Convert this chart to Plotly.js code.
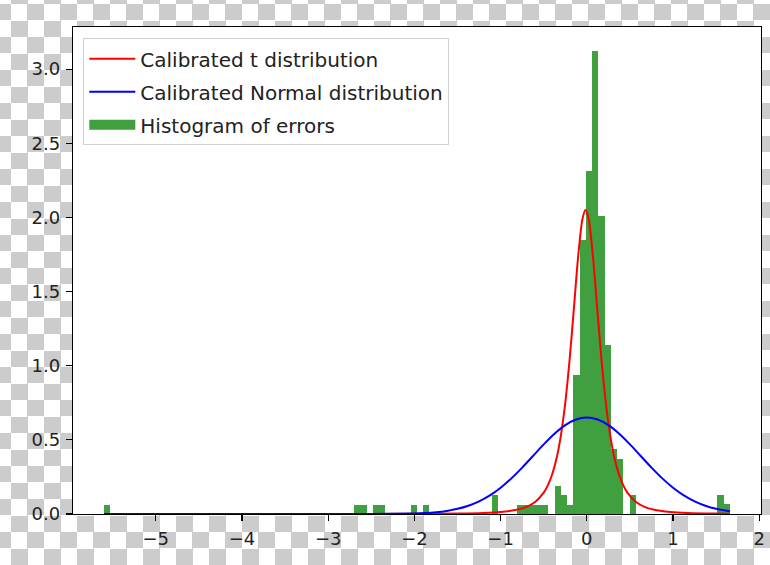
<!DOCTYPE html>
<html>
<head>
<meta charset="utf-8">
<script src="https://cdn.plot.ly/plotly-3.0.1.min.js"></script>
<style>
  html, body { margin: 0; padding: 0; }
  body {
    width: 770px; height: 565px; overflow: hidden;
    background-color: #ffffff;
    background-image: repeating-conic-gradient(#cccccc 0 25%, #ffffff 0 50%);
    background-size: 33px 33px;
    background-position: 11px 4px;
  }
  #chart { width: 770px; height: 565px; }
</style>
</head>
<body>
<div id="chart"></div>
<script>
// Histogram of errors (density), bin centres and heights
const binWidth = 0.07265;
const histX = [-5.5687, -2.6627, -2.5900, -2.4447, -2.3721, -2.0088, -1.8635, -1.0644,
               -0.7738, -0.7011, -0.6285, -0.5558, -0.4832, -0.3379, -0.2652, -0.1926,
               -0.1199, -0.0473, 0.0254, 0.0980, 0.1707, 0.2433, 0.3160, 0.3886,
               0.5339, 1.5510, 1.6237];
const histY = [0.063, 0.063, 0.063, 0.063, 0.063, 0.063, 0.063, 0.125,
               0.063, 0.063, 0.063, 0.063, 0.063, 0.19, 0.125, 0.063,
               0.94, 1.85, 2.31, 3.12, 2.01, 1.14, 0.44, 0.37,
               0.125, 0.125, 0.07];

// Calibrated t distribution curve
const tX = [-5.6, -4, -3, -2, -1.5, -1.2, -1.0, -0.8, -0.7, -0.6, -0.5, -0.45, -0.4, -0.35,
            -0.3, -0.25, -0.2, -0.15, -0.1, -0.05, -0.015, 0.02, 0.07, 0.12, 0.17, 0.22,
            0.27, 0.32, 0.37, 0.42, 0.47, 0.57, 0.67, 0.77, 0.97, 1.17, 1.47, 1.66];
const tY = [0.0000, 0.0001, 0.0002, 0.0009, 0.0028, 0.0066, 0.0132, 0.0299, 0.0479, 0.0807,
            0.1437, 0.196, 0.271, 0.379, 0.534, 0.751, 1.040, 1.388, 1.740, 1.992, 2.05,
            1.992, 1.740, 1.388, 1.040, 0.751, 0.534, 0.379, 0.271, 0.196, 0.1437, 0.0807,
            0.0479, 0.0299, 0.0132, 0.0066, 0.0028, 0.0018];

// Calibrated Normal distribution curve
const nX = [-5.6, -4, -3, -2.5, -2, -1.875, -1.75, -1.625, -1.5, -1.375, -1.25, -1.125, -1.0,
            -0.875, -0.75, -0.625, -0.5, -0.375, -0.25, -0.125, 0, 0.125, 0.25, 0.375, 0.5,
            0.625, 0.75, 0.875, 1.0, 1.125, 1.25, 1.375, 1.5, 1.66];
const nY = [0.0, 0.0, 0.0, 0.0002, 0.0036, 0.0067, 0.0121, 0.0209, 0.0348, 0.0556, 0.0852,
            0.1253, 0.177, 0.2401, 0.3127, 0.3911, 0.4696, 0.5414, 0.5992, 0.637, 0.65,
            0.637, 0.5992, 0.5414, 0.4696, 0.3911, 0.3127, 0.2401, 0.177, 0.1253, 0.0852,
            0.0556, 0.0348, 0.018];

const xTicks = [-5, -4, -3, -2, -1, 0, 1, 2];
const yTicks = [0.0, 0.5, 1.0, 1.5, 2.0, 2.5, 3.0];
const seriesNames = ['Calibrated t distribution', 'Calibrated Normal distribution', 'Histogram of errors'];

const green = 'rgba(0,128,0,0.75)';
const traces = [
  { type: 'bar', x: histX, y: histY, width: binWidth, name: seriesNames[2], showlegend: false,
    legendgroup: 'c', marker: { color: green, line: { width: 0 } } },
  { type: 'scatter', mode: 'lines', x: tX, y: tY, name: seriesNames[0],
    legendgroup: 'a', line: { color: '#ff0000', width: 2, shape: 'spline', smoothing: 0.8 } },
  { type: 'scatter', mode: 'lines', x: nX, y: nY, name: seriesNames[1],
    legendgroup: 'b', line: { color: '#0000ff', width: 2, shape: 'spline', smoothing: 0.8 } },
  // legend key for the histogram (wide patch, as in the original legend)
  { type: 'scatter', mode: 'lines', x: [null], y: [null], name: seriesNames[2],
    legendgroup: 'c', line: { color: green, width: 14 } }
];

const axisFont = { family: 'DejaVu Sans', size: 18, color: '#222222' };

const layout = {
  width: 770, height: 565,
  margin: { l: 73, r: 9, t: 27, b: 51, pad: 0 },
  paper_bgcolor: 'rgba(0,0,0,0)',
  plot_bgcolor: '#ffffff',
  font: { family: 'DejaVu Sans', size: 18, color: '#222222' },
  bargap: 0,
  showlegend: true,
  legend: {
    x: 0.015, y: 0.977, xanchor: 'left', yanchor: 'top',
    bgcolor: 'rgba(255,255,255,0.85)', bordercolor: '#d0d0d0', borderwidth: 1,
    font: { family: 'DejaVu Sans', size: 20, color: '#222222' },
    tracegroupgap: 4, traceorder: 'grouped', itemwidth: 46
  },
  xaxis: {
    range: [-5.96, 2.02], tickvals: xTicks, ticks: 'outside', ticklen: 6, tickwidth: 1.2,
    tickcolor: '#000000', showline: true, linecolor: '#000000', linewidth: 1.2, mirror: true,
    showgrid: false, zeroline: false, tickfont: axisFont, ticklabelstandoff: 2
  },
  yaxis: {
    range: [0, 3.284], tickvals: yTicks, tickformat: '.1f', ticks: 'outside', ticklen: 6,
    tickwidth: 1.2, tickcolor: '#000000', showline: true, linecolor: '#000000', linewidth: 1.2,
    mirror: true, showgrid: false, zeroline: false, tickfont: axisFont, ticklabelstandoff: 2
  }
};

Plotly.newPlot('chart', traces, layout, { displayModeBar: false, staticPlot: true });
</script>
</body>
</html>
